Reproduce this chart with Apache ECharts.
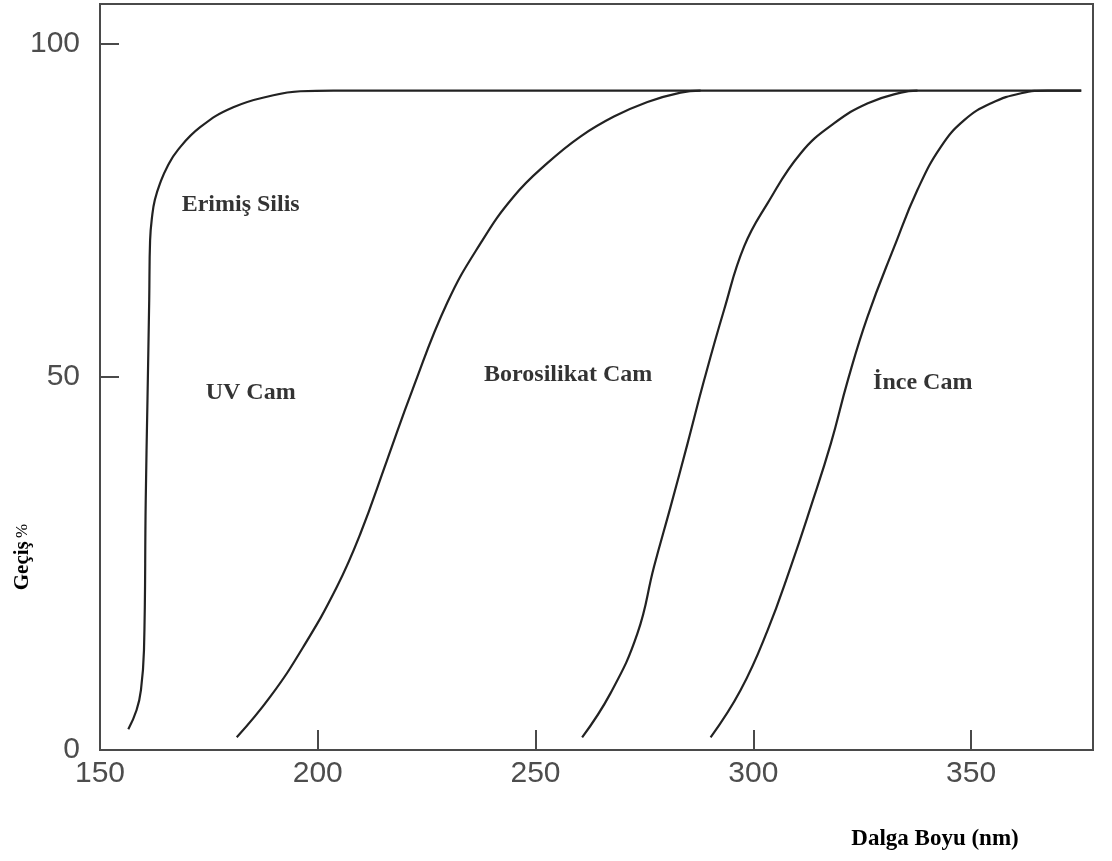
<!DOCTYPE html>
<html>
<head>
<meta charset="utf-8">
<script src="https://cdn.jsdelivr.net/npm/echarts@6/dist/echarts.min.js"></script>
<style>
html,body{margin:0;padding:0;background:#fff;}
#chart{width:1112px;height:861px;}
</style>
</head>
<body>
<div id="chart"></div>
<script>
// Wavelength (nm) vs transmission (%)
const erimisSilis = [[156.5,-2.9],[158.4,0.0],[159.4,3.0],[160.1,9.0],[160.5,31.5],[160.9,46.5],[161.3,61.6],[161.5,70.5],[162.0,74.3],[162.6,76.6],[163.8,79.1],[165.4,81.5],[167.9,84.1],[173.0,87.5],[180.6,90.5],[189.8,92.3],[196.0,92.9],[203.6,93.0],[375.3,93.0]];
const uvCam = [[181.4,-4.1],[189.1,2.0],[196.7,9.5],[204.4,18.5],[209.8,26.5],[215.9,37.5],[221.7,48.0],[229.7,61.1],[237.4,70.1],[245.0,77.1],[252.7,82.1],[260.3,86.1],[268.0,89.1],[275.7,91.3],[283.3,92.7],[287.9,93.0]];
const borosilikatCam = [[260.7,-4.1],[267.2,2.5],[273.4,11.5],[277.2,21.5],[281.0,30.5],[284.9,40.0],[288.7,49.5],[293.3,60.1],[297.9,69.6],[303.3,76.1],[310.9,83.6],[318.6,88.1],[326.3,91.1],[333.9,92.7],[337.7,93.0]];
const inceCam = [[290.2,-4.1],[297.1,3.0],[303.3,12.0],[308.6,21.5],[313.2,30.5],[317.8,40.0],[321.7,49.5],[326.2,59.0],[332.4,69.6],[337.7,78.1],[343.1,84.6],[348.5,88.6],[354.6,91.1],[361.5,92.6],[367.6,93.0],[375.3,93.0]];
const seriesNames = ['Erimiş Silis','UV Cam','Borosilikat Cam','İnce Cam'];
const annotationAt = [[182.3,75.8],[184.6,47.7],[257.5,50.3],[338.9,49.2]];
const xTickLabels = [150,200,250,300,350];
const xTicks = [200,250,300,350];
const yTickLabels = [50,100];
const xTitle = 'Dalga Boyu (nm)';
const yTitle = 'Geçiş';

const chart = echarts.init(document.getElementById('chart'), null, {renderer:'canvas'});
const lineColor = '#222';
const axisColor = '#4a4a4a';
const labelColor = '#4d4d4d';
const mk = (name, data) => ({
  name, type:'line', data, smooth:0.45, showSymbol:false, symbol:'none',
  lineStyle:{color:lineColor, width:2.2}, silent:true, clip:false, z:3
});
const option = {
  animation:false,
  backgroundColor:'#fff',
  grid:{left:100, right:19, top:4, bottom:111, show:true, borderColor:axisColor, borderWidth:2, backgroundColor:'transparent'},
  xAxis:{
    type:'value', min:150, max:378,
    axisLine:{show:true, onZero:false, lineStyle:{color:axisColor, width:2}},
    axisTick:{show:true, inside:true, length:20, customValues:xTicks, lineStyle:{color:axisColor, width:2}},
    axisLabel:{customValues:xTickLabels, color:labelColor, fontFamily:'Liberation Sans', fontSize:30, margin:9},
    splitLine:{show:false}
  },
  yAxis:{
    type:'value', min:-6, max:106,
    axisLine:{show:true, onZero:false, lineStyle:{color:axisColor, width:2}},
    axisTick:{show:true, inside:true, length:19, customValues:yTickLabels, lineStyle:{color:axisColor, width:2}},
    axisLabel:{customValues:[-6].concat(yTickLabels), formatter:v => v < 0 ? '0' : String(v), color:labelColor, fontFamily:'Liberation Sans', fontSize:30, margin:20},
    splitLine:{show:false}
  },
  series:[
    mk(seriesNames[0], erimisSilis),
    mk(seriesNames[1], uvCam),
    mk(seriesNames[2], borosilikatCam),
    mk(seriesNames[3], inceCam),
    {
      type:'scatter', symbolSize:0, silent:true, z:4,
      data: seriesNames.map((n,i)=>({name:n, value:annotationAt[i]})),
      label:{show:true, position:'inside', formatter:p=>p.name, color:'#000', textBorderWidth:0, fontFamily:'Liberation Serif', fontWeight:'bold', fontSize:24}
    }
  ],
  graphic:[
    {type:'text', x:935, y:839, silent:true,
      style:{text:xTitle, fill:'#000', font:'bold 23px "Liberation Serif"', align:'center', verticalAlign:'middle'}},
    {type:'text', x:23, y:557, rotation:Math.PI/2, silent:true,
      style:{text:'{b|'+yTitle+'} {r|%}', align:'center', verticalAlign:'middle',
        rich:{b:{font:'bold 21px "Liberation Serif"', fill:'#000'}, r:{font:'17px "Liberation Serif"', fill:'#000'}}}}
  ]
};
chart.setOption(option);
</script>
</body>
</html>
